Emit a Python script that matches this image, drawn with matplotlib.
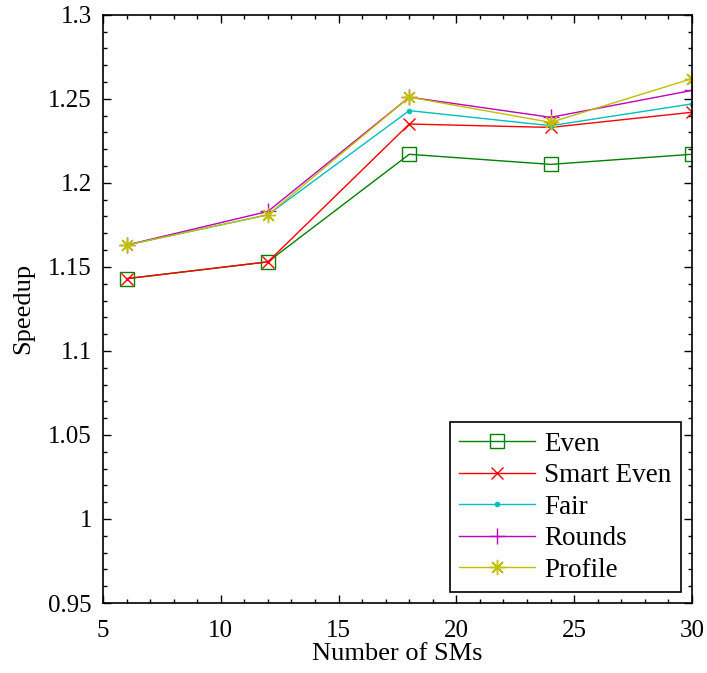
import matplotlib.pyplot as plt
from matplotlib.ticker import MultipleLocator, FormatStrFormatter

plt.rcParams['font.family'] = ['Liberation Serif', 'DejaVu Serif']
plt.rcParams['mathtext.fontset'] = 'stix'

# Speedup for each scheduling policy vs number of SMs
sms = [6, 12, 18, 24, 30]
even = [1.143, 1.153, 1.217, 1.211, 1.217]
smart_even = [1.143, 1.153, 1.235, 1.233, 1.242]
fair = [1.163, 1.181, 1.243, 1.234, 1.247]
rounds = [1.163, 1.183, 1.251, 1.239, 1.255]
profile = [1.163, 1.181, 1.251, 1.236, 1.262]

fig = plt.figure(figsize=(7.07, 6.73), dpi=100)
ax = fig.add_axes([0.1457, 0.104, 0.833, 0.874])

lw = 1.0
ax.plot(sms, even, color=(0, 0.5, 0), marker='s', ms=9.5, mfc='none', mew=1.0, lw=lw, label='Even')
ax.plot(sms, smart_even, color='r', marker='x', ms=9, mew=1.0, lw=lw, label='Smart Even')
ax.plot(sms, fair, color=(0, 0.75, 0.75), marker='.', ms=6, lw=lw, label='Fair')
ax.plot(sms, rounds, color=(0.75, 0, 0.75), marker='+', ms=11, mew=1.0, lw=lw, label='Rounds')
ax.plot(sms, profile, color=(0.75, 0.75, 0), marker=(8, 2, 0), ms=11, mew=1.0, lw=lw, label='Profile')

ax.set_xlim(5, 30)
ax.set_ylim(0.95, 1.3)
ax.xaxis.set_major_locator(MultipleLocator(5))
ax.xaxis.set_minor_locator(MultipleLocator(1))
ax.yaxis.set_major_locator(MultipleLocator(0.05))
ax.yaxis.set_minor_locator(MultipleLocator(0.01))
ax.yaxis.set_major_formatter(FormatStrFormatter('%g'))
ax.tick_params(which='both', direction='in', top=True, right=True, labelsize=18, width=1.0)
ax.tick_params(axis='y', pad=8)
ax.tick_params(axis='x', pad=12)
ax.tick_params(which='major', length=6)
ax.tick_params(which='minor', length=3)
for s in ax.spines.values():
    s.set_linewidth(1.2)

ax.set_xlabel('Number of SMs', fontsize=19, labelpad=1)
ax.set_ylabel('Speedup', fontsize=19, labelpad=10)

leg = ax.legend(loc='lower right', fontsize=19.5, frameon=True, fancybox=False,
                edgecolor='k', framealpha=1, handlelength=2.8, handletextpad=0.35,
                borderaxespad=0.4, borderpad=0.35, labelspacing=0.24)
leg.get_frame().set_linewidth(1.2)

fig.savefig('out.png', dpi=100)
